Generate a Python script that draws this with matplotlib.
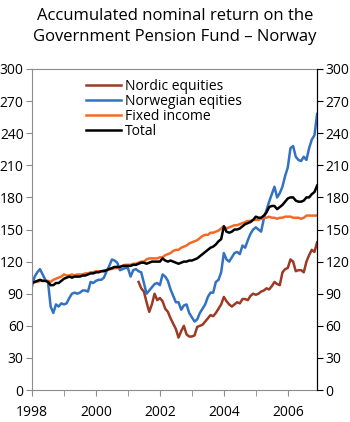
import matplotlib
matplotlib.use("Agg")
from matplotlib import pyplot as plt
import numpy as np

# monthly index values, Jan 1998 - Dec 2006 (start = 100)
months = np.arange(108)
years = 1998 + months / 12.0

norwegian = [97, 106, 110, 113, 108, 103, 101, 78, 72, 80, 78, 81,
             80, 81, 86, 90, 91, 90, 91, 93, 93, 92, 101, 100,
             102, 103, 103, 105, 111, 116, 122, 121, 119, 112, 113, 114,
             114, 106, 112, 113, 111, 110, 100, 90, 93, 96, 99, 100,
             98, 108, 106, 102, 94, 88, 82, 82, 75, 79, 80, 72,
             68, 64, 66, 72, 76, 80, 87, 91, 91, 101, 103, 110,
             128, 122, 120, 124, 128, 129, 127, 135, 133, 140, 146, 150,
             152, 150, 148, 160, 168, 176, 183, 190, 180, 184, 190, 200,
             208, 226, 228, 218, 215, 214, 218, 215, 226, 234, 238, 258]

# Nordic equities start in May 2001
nordic_start = 40
nordic = [101, 95, 92, 82, 73, 80, 90, 84,
          86, 83, 76, 73, 67, 62, 57, 49, 55, 60, 52, 50,
          50, 51, 59, 60, 61, 64, 67, 70, 69, 72, 76, 80,
          87, 83, 80, 78, 80, 82, 81, 85, 85, 84, 88, 90,
          89, 90, 92, 93, 95, 94, 97, 101, 99, 98, 110, 113,
          114, 122, 120, 111, 112, 112, 110, 120, 126, 131, 129, 138]

fixed_income = [100, 101, 101, 102, 102, 102, 102, 101, 103, 104, 105, 106,
                108, 107, 107, 108, 107, 108, 108, 108, 109, 109, 110, 110,
                111, 111, 111, 112, 112, 113, 113, 114, 114, 115, 116, 117,
                117, 117, 118, 118, 119, 120, 120, 122, 123, 123, 123, 123,
                124, 124, 126, 127, 128, 130, 131, 131, 133, 134, 135, 137,
                138, 139, 140, 142, 144, 145, 145, 147, 147, 148, 149, 151,
                153, 151, 152, 153, 154, 154, 155, 156, 157, 158, 158, 159,
                159, 159, 160, 161, 161, 162, 161, 161, 160, 161, 161, 162,
                162, 162, 161, 161, 161, 160, 161, 163, 163, 163, 163, 163]

total = [100, 101, 102, 103, 102, 102, 101, 98, 98, 100, 100, 102,
         104, 105, 106, 105, 106, 106, 106, 107, 107, 108, 109, 109,
         110, 110, 111, 111, 112, 113, 114, 115, 115, 115, 116, 116,
         116, 116, 117, 117, 118, 119, 119, 118, 119, 120, 120, 120,
         120, 123, 121, 120, 121, 120, 119, 118, 119, 120, 120, 121,
         121, 122, 123, 125, 127, 129, 131, 133, 134, 136, 139, 141,
         153, 148, 147, 148, 150, 150, 151, 153, 155, 156, 157, 159,
         162, 161, 161, 163, 166, 171, 172, 172, 169, 171, 173, 176,
         179, 180, 180, 177, 176, 176, 177, 180, 180, 183, 185, 191]

plt.rcParams['font.family'] = ['Open Sans', 'DejaVu Sans']

fig = plt.figure(figsize=(3.5, 4.22), dpi=100)
ax = fig.add_axes([0.0914, 0.0758, 0.8146, 0.7607])

ax.plot(years[nordic_start:], nordic, color="#9C3A24", lw=1.8, label="Nordic equities")
ax.plot(years, norwegian, color="#3371C2", lw=1.8, label="Norwegian eqities")
ax.plot(years, fixed_income, color="#F26A25", lw=1.8, label="Fixed income")
ax.plot(years, total, color="black", lw=1.8, label="Total")

ax.set_xlim(1998, 1998 + 107 / 12.0)
ax.set_ylim(0, 300)
yt = np.arange(0, 301, 30)
ax.set_yticks(yt)
ax.set_xticks([1998, 2000, 2002, 2004, 2006])
ax.set_xticks(np.arange(1999, 2007, 2), minor=True)

grey = "#8c8c8c"
for s in ["left", "top", "bottom"]:
    ax.spines[s].set_color(grey)
ax.spines["right"].set_color("black")
ax.tick_params(axis="both", which="both", direction="out", color=grey,
               labelsize=10, length=4, pad=2)
ax.tick_params(axis="x", pad=7)

ax2 = ax.twinx()
ax2.set_ylim(0, 300)
ax2.set_yticks(yt)
ax2.tick_params(axis="y", direction="out", color="black", labelsize=10, length=4, pad=2)
for s in ["left", "top", "bottom"]:
    ax2.spines[s].set_visible(False)

leg = ax.legend(loc="upper left", bbox_to_anchor=(0.155, 1.0), frameon=False,
                fontsize=10, handlelength=2.5, handletextpad=0.3,
                labelspacing=0.0, borderaxespad=0.3)

fig.text(0.5, 0.98, "Accumulated nominal return on the\nGovernment Pension Fund \u2013 Norway",
         ha="center", va="top", fontsize=12, linespacing=1.4)

fig.savefig("out.png", dpi=100)
